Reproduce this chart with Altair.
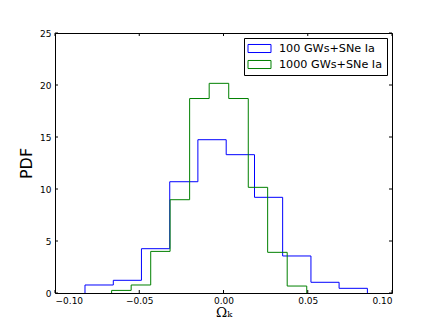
import altair as alt
import pandas as pd

# ---- data ----
series_names = ["100 GWs+SNe Ia", "1000 GWs+SNe Ia"]
series_colors = ["#0000ff", "#008000"]

blue_edges = [-0.0822, -0.0654, -0.0487, -0.0319, -0.0152, 0.0016,
              0.0184, 0.0351, 0.0519, 0.0686, 0.0854]
blue_pdf = [0.77, 1.22, 4.26, 10.7, 14.74, 13.3, 9.2, 3.56, 1.03, 0.45]

green_edges = [-0.0664, -0.0548, -0.0432, -0.0317, -0.0201, -0.0085,
               0.0031, 0.0147, 0.0262, 0.0378, 0.0494]
green_pdf = [0.25, 0.77, 4.0, 8.97, 18.7, 20.16, 18.7, 10.16, 3.91, 0.67]

x_ticks = [-0.10, -0.05, 0.00, 0.05, 0.10]
y_ticks = [0, 5, 10, 15, 20, 25]

W, H = 337, 260


def step_outline(edges, pdf, name):
    xs, ys = [edges[0]], [0.0]
    for i, v in enumerate(pdf):
        xs += [edges[i], edges[i + 1]]
        ys += [v, v]
    xs.append(edges[-1])
    ys.append(0.0)
    return pd.DataFrame({"x": xs, "y": ys, "order": list(range(len(xs))), "series": name})


blue_df = step_outline(blue_edges, blue_pdf, series_names[0])
green_df = step_outline(green_edges, green_pdf, series_names[1])
xt_df = pd.DataFrame({"x": x_ticks})
yt_df = pd.DataFrame({"y": y_ticks})

xscale = alt.Scale(domain=[-0.1, 0.1], nice=False, zero=False)
yscale = alt.Scale(domain=[0, 25], nice=False)

x_enc = alt.X("x:Q", scale=xscale, title="Ωₖ",
              axis=alt.Axis(values=x_ticks, ticks=False, domain=False, grid=False,
                            labelExpr="replace(format(datum.value, '.2f'), '-', '−')",
                            labelPadding=3, titleFont="DejaVu Serif",
                            titleFontSize=13.5, titleFontWeight="normal",
                            titleY=23, titleBaseline="alphabetic"))
y_enc = alt.Y("y:Q", scale=yscale, title="PDF",
              axis=alt.Axis(values=y_ticks, ticks=False, domain=False, grid=False,
                            labelPadding=4, titlePadding=5, titleFont="DejaVu Sans",
                            titleFontSize=16, titleFontWeight="normal"))

color = alt.Color("series:N",
                  scale=alt.Scale(domain=series_names, range=series_colors),
                  legend=alt.Legend(title=None, orient="top-right", offset=5,
                                    fillColor="white", strokeColor="black",
                                    padding=4, rowPadding=3,
                                    symbolOffset=5, labelOffset=13,
                                    labelFont="DejaVu Sans", labelFontSize=11.2,
                                    labelColor="black",
                                    symbolType="M-2,-0.7H2V0.7H-2Z",
                                    symbolSize=132, symbolStrokeWidth=1,
                                    symbolFillColor="transparent"))

blue = alt.Chart(blue_df).mark_line(strokeWidth=1).encode(
    x=x_enc, y=y_enc, order="order:Q", color=color)
green = alt.Chart(green_df).mark_line(strokeWidth=1).encode(
    x=x_enc, y=y_enc, order="order:Q", color=color)

tick_len = 3
bottom_ticks = alt.Chart(xt_df).mark_rule(color="black", strokeWidth=1).encode(
    x=x_enc, y=alt.value(H), y2=alt.value(H - tick_len))
top_ticks = alt.Chart(xt_df).mark_rule(color="black", strokeWidth=1).encode(
    x=x_enc, y=alt.value(0), y2=alt.value(tick_len))
left_ticks = alt.Chart(yt_df).mark_rule(color="black", strokeWidth=1).encode(
    y=y_enc, x=alt.value(0), x2=alt.value(tick_len))
right_ticks = alt.Chart(yt_df).mark_rule(color="black", strokeWidth=1).encode(
    y=y_enc, x=alt.value(W), x2=alt.value(W - tick_len))

chart = alt.layer(blue, green, bottom_ticks, top_ticks, left_ticks, right_ticks).properties(
    width=W, height=H,
    autosize=alt.AutoSizeParams(type="none"),
    padding={"left": 47, "top": 25, "right": 36, "bottom": 26},
    background="white",
).configure_view(stroke="black", strokeWidth=1).configure_axis(
    labelFont="DejaVu Sans", labelFontSize=9, labelColor="black", titleColor="black"
)

chart.save("out.html", embed_options={"renderer": "svg", "actions": False})
